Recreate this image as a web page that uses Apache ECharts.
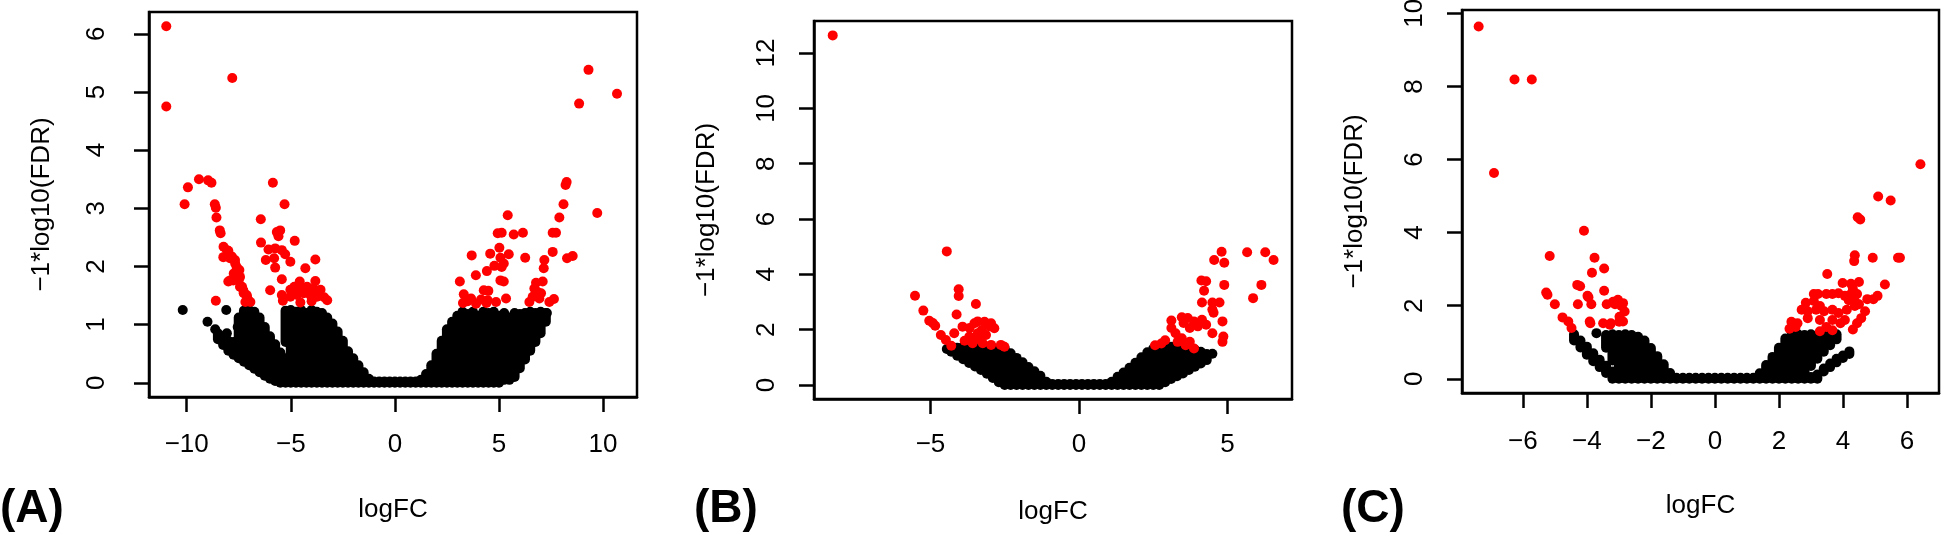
<!DOCTYPE html>
<html><head><meta charset="utf-8">
<script src="https://cdn.jsdelivr.net/npm/echarts@6/dist/echarts.min.js"></script>
<style>html,body{margin:0;padding:0;background:#fff}#c{width:1943px;height:536px}</style>
</head><body><div id="c"></div>
<script>
// ---------- Panel A ----------
const ticksAx = [-10, -5, 0, 5, 10];
const ticksAy = [0, 1, 2, 3, 4, 5, 6];
const redA = [
[-10.98,6.13],[-10.98,4.75],[-7.81,5.24],
[-9.41,3.5],[-8.97,3.48],[-8.81,3.44],[-9.94,3.36],[-10.1,3.07],[-8.65,3.07],[-8.6,3.01],[-8.57,2.84],[-8.41,2.62],[-8.37,2.57],
[-8.23,2.34],[-8.07,2.28],[-8.0,2.27],[-8.24,2.16],[-7.92,2.14],[-7.83,2.17],[-7.68,2.11],[-7.67,2.05],[-7.6,1.99],[-7.47,1.94],
[-7.74,1.88],[-7.44,1.82],[-8.0,1.74],[-7.76,1.76],[-7.91,1.76],[-7.5,1.76],[-7.44,1.65],[-7.34,1.65],[-7.28,1.59],[-7.26,1.54],
[-7.12,1.51],[-7.1,1.48],[-7.04,1.42],[-7.18,1.39],[-6.94,1.39],[-8.6,1.41],
[-5.86,3.44],[-5.3,3.07],[-6.44,2.81],[-6.43,2.41],[-5.67,2.59],[-5.59,2.52],[-5.51,2.62],[-4.81,2.44],[-6.07,2.29],[-5.75,2.31],
[-6.2,2.11],[-5.8,2.14],[-5.43,2.28],[-5.27,2.21],[-5.75,1.98],[-5.02,2.08],[-3.82,2.12],[-4.3,1.97],[-5.43,1.78],[-4.57,1.74],
[-4.83,1.65],[-3.82,1.75],[-5.99,1.59],[-5.02,1.6],[-4.54,1.64],[-4.22,1.65],[-3.9,1.62],[-3.57,1.6],[-5.43,1.51],[-5.02,1.48],
[-4.7,1.51],[-4.38,1.54],[-4.06,1.51],[-3.74,1.48],[-3.25,1.42],[-5.38,1.41],[-4.54,1.38],[-4.0,1.4],[-3.4,1.47],
[9.3,5.38],[8.85,4.8],[10.67,4.97],[9.72,2.92],
[8.25,3.45],[8.2,3.4],[8.1,3.07],[7.9,2.84],[7.58,2.58],[7.74,2.58],[7.58,2.25],[8.27,2.14],[8.54,2.18],[7.18,2.11],[7.15,1.97],
[6.78,1.72],[7.1,1.74],[6.7,1.62],[6.86,1.56],[7.02,1.54],[6.62,1.48],[6.94,1.45],[6.46,1.39],[7.64,1.44],[7.42,1.39],
[5.42,2.88],[4.94,2.57],[5.13,2.58],[5.71,2.55],[6.15,2.58],[5.02,2.32],[4.58,2.22],[5.47,2.21],[3.69,2.19],[6.26,2.15],[5.07,2.15],
[5.23,2.05],[5.13,1.99],[4.78,2.01],[4.42,1.92],[3.89,1.85],[3.12,1.74],[5.23,1.74],[4.49,1.58],[3.31,1.52],[3.66,1.45],[4.14,1.43],
[4.46,1.42],[4.86,1.39],[5.34,1.45],[3.27,1.37],[4.4,1.37],[3.5,1.4],[3.9,1.36],[4.27,1.59],[5.07,1.76]
];
const blackA = [[-10.19,1.25],[-8.10,1.25],[-9.0,1.05],[-8.63,0.92],[-7.55,0.96],[-8.39,0.79],[-8.07,0.85],[6.36,0.62],[7.3,1.2]];
// dense non-significant genes: [logFC, lowest, highest] per column
const massA = [
[-8.5,0.75,0.85],[-8.25,0.65,0.8],[-8.0,0.55,0.72],[-7.75,0.48,0.7],[-7.5,0.42,1.12],[-7.25,0.36,1.24],[-7.0,0.3,1.25],
[-6.75,0.24,1.22],[-6.5,0.18,1.12],[-6.25,0.12,0.96],[-6.0,0.07,0.8],[-5.75,0.03,0.66],[-5.5,0,0.52],[-5.25,0,0.42],[-5.25,0.7,1.24],
[-5.0,0,1.25],[-4.75,0,1.22],[-4.5,0,1.25],[-4.25,0,1.2],[-4.0,0,1.25],[-3.75,0,1.22],[-3.5,0,1.2],[-3.25,0,1.12],[-3.0,0,1.02],
[-2.75,0,0.88],[-2.5,0,0.72],[-2.25,0,0.54],[-2.0,0,0.42],[-1.75,0,0.3],[-1.5,0,0.18],[-1.25,0,0.07],
[-1.0,0,0.02],[-0.75,0,0.02],[-0.5,0,0.02],[-0.25,0,0.02],[0,0,0.02],[0.25,0,0.02],[0.5,0,0.02],[0.75,0,0.02],[1.0,0,0.02],
[1.25,0,0.05],[1.5,0,0.15],[1.75,0,0.3],[2.0,0,0.5],[2.25,0,0.72],[2.5,0,0.92],[2.75,0,1.05],[3.0,0,1.15],[3.25,0,1.22],
[3.5,0,1.18],[3.75,0,1.22],[4.0,0,1.15],[4.25,0,1.22],[4.5,0,1.2],[4.75,0,1.22],[5.0,0,1.15],[5.25,0.05,1.2],[5.5,0.05,1.12],
[5.75,0.1,1.2],[6.0,0.25,1.18],[6.25,0.4,1.2],[6.5,0.55,1.22],[6.75,0.7,1.2],[7.0,0.85,1.22],[7.25,1.05,1.2]
];

// ---------- Panel B ----------
const ticksBx = [-5, 0, 5];
const ticksBy = [0, 2, 4, 6, 8, 10, 12];
const redB = [
[-8.29,12.64],[-4.45,4.83],[-5.52,3.23],[-4.05,3.46],[-4.05,3.22],[-3.47,2.93],[-5.24,2.69],[-4.12,2.55],[-5.04,2.32],[-4.92,2.24],
[-4.84,2.14],[-4.65,1.81],[-4.48,1.63],[-4.3,1.42],[-4.2,1.87],[-3.92,2.11],[-3.52,2.23],[-3.18,2.29],[-2.96,2.23],[-2.85,2.05],
[-3.27,1.99],[-3.69,1.75],[-3.41,1.87],[-3.13,1.81],[-3.58,1.51],[-3.24,1.51],[-2.96,1.45],[-2.63,1.45],[-2.51,1.38],[-3.68,2.06],
[-3.41,2.3],[-3.0,2.12],[-3.4,1.69],[-3.85,1.6],
[5.66,4.8],[6.27,4.8],[6.55,4.52],[6.14,3.62],[5.86,3.14],[4.8,4.82],[4.55,4.52],[4.89,4.42],[4.12,3.78],[4.28,3.75],[4.21,3.41],
[4.89,3.62],[4.14,2.98],[4.49,2.98],[4.73,2.98],[4.49,2.73],[4.53,2.61],[4.83,2.3],[4.49,1.87],[4.86,1.75],[4.83,1.56],[3.11,2.33],
[3.46,2.45],[3.66,2.42],[3.52,2.24],[3.87,2.3],[4.14,2.36],[3.73,2.06],[4.0,2.12],[3.11,2.06],[3.25,1.87],[3.46,1.69],[3.59,1.44],
[2.9,1.62],[3.32,1.56],[3.73,1.56],[3.87,1.32],[2.56,1.44],[2.77,1.5],[4.28,2.18]
];
const blackB = [[4.49,1.13],[-4.45,1.3]];
const massB = [
[-4.3,1.2,1.3],[-4.1,1.06,1.35],[-3.9,0.93,1.38],[-3.7,0.8,1.38],[-3.5,0.67,1.35],[-3.3,0.54,1.36],[-3.1,0.41,1.3],[-2.9,0.25,1.35],
[-2.7,0.1,1.3],[-2.5,0,1.32],[-2.3,0,1.15],[-2.1,0,0.98],[-1.9,0,0.82],[-1.7,0,0.65],[-1.5,0,0.5],[-1.3,0,0.33],[-1.1,0,0.12],
[-0.9,0,0.04],[-0.7,0,0.04],[-0.5,0,0.04],[-0.3,0,0.04],[-0.1,0,0.04],[0.1,0,0.04],[0.3,0,0.04],[0.5,0,0.04],[0.7,0,0.04],[0.9,0,0.04],
[1.1,0,0.12],[1.3,0,0.3],[1.5,0,0.45],[1.7,0,0.62],[1.9,0,0.8],[2.1,0,1.0],[2.3,0,1.18],[2.5,0,1.32],[2.7,0,1.38],[2.9,0.1,1.38],
[3.1,0.22,1.38],[3.3,0.32,1.38],[3.5,0.42,1.35],[3.7,0.54,1.32],[3.9,0.66,1.28],[4.1,0.78,1.2],[4.3,0.9,1.12]
];

// ---------- Panel C ----------
const ticksCx = [-6, -4, -2, 0, 2, 4, 6];
const ticksCy = [0, 2, 4, 6, 8, 10];
const redC = [
[-7.38,9.64],[-6.9,5.63],[-6.26,8.19],[-5.72,8.19],
[-5.16,3.36],[-5.27,2.36],[-5.23,2.3],[-5.0,2.04],[-4.76,1.68],[-4.58,1.57],[-4.48,1.39],
[-4.09,4.05],[-4.3,2.57],[-4.21,2.53],[-3.76,3.31],[-3.46,3.02],[-3.84,2.9],[-3.98,2.27],[-3.95,2.23],[-4.28,2.04],[-3.86,2.04],
[-3.46,2.41],[-3.38,2.04],[-3.18,2.11],[-3.03,2.16],[-2.87,2.07],[-2.82,1.84],[-2.98,1.7],[-2.87,1.57],[-3.91,1.57],[-3.89,1.52],
[-3.49,1.52],[-3.28,1.48],[-3.25,1.52],[-2.99,1.56],[-3.12,2.04],[-2.92,1.99],
[6.42,5.87],[5.1,4.99],[5.49,4.88],[4.46,4.42],[4.54,4.36],[4.37,3.38],[4.35,3.22],[4.93,3.31],[5.72,3.31],[5.78,3.31],[3.51,2.87],
[3.99,2.62],[4.25,2.6],[4.5,2.65],[4.31,2.46],[5.31,2.58],[5.08,2.27],[4.95,2.18],[4.76,2.18],[3.09,2.32],[3.22,2.32],[3.48,2.32],
[3.67,2.32],[3.86,2.34],[4.06,2.27],[4.25,2.32],[4.44,2.32],[2.84,2.08],[3.09,2.13],[3.28,1.99],[4.18,2.15],[4.37,2.13],[4.5,2.04],
[2.71,1.89],[2.9,1.85],[3.16,1.89],[3.41,1.85],[3.67,1.89],[3.86,1.8],[4.12,1.89],[4.37,1.99],[4.69,1.85],[4.57,1.66],[4.44,1.52],
[4.31,1.35],[2.39,1.56],[2.58,1.52],[2.9,1.66],[3.28,1.61],[3.67,1.61],[3.92,1.52],[4.06,1.61],[2.33,1.37],[2.52,1.42],[3.48,1.42],
[3.67,1.33],[3.28,1.3]
];
const blackC = [[-3.70,1.25]];
const massC = [
[-4.4,1.05,1.22],[-4.2,0.86,1.05],[-4.0,0.66,0.88],[-3.8,0.48,0.7],[-3.6,0.32,0.52],[-3.4,0.16,0.36],[-3.4,0.85,1.2],
[-3.2,0,0.2],[-3.2,0.5,1.22],[-3.0,0,1.2],[-2.8,0,1.22],[-2.6,0,1.2],[-2.4,0,1.15],[-2.2,0,1.05],[-2.0,0,0.84],[-1.8,0,0.62],
[-1.6,0,0.4],[-1.4,0,0.16],[-1.2,0,0.03],[-1.0,0,0.03],[-0.8,0,0.03],[-0.6,0,0.03],[-0.4,0,0.03],[-0.2,0,0.03],[0,0,0.03],
[0.2,0,0.03],[0.4,0,0.03],[0.6,0,0.03],[0.8,0,0.03],[1.0,0,0.03],[1.2,0,0.03],[1.4,0,0.15],[1.6,0,0.38],[1.8,0,0.6],[2.0,0,0.85],
[2.2,0,1.1],[2.4,0,1.2],[2.6,0,1.22],[2.8,0,1.2],[3.0,0,0.05],[3.0,0.35,1.22],[3.2,0,0.12],[3.2,0.55,1.2],[3.4,0.2,0.28],
[3.4,0.74,1.22],[3.6,0.32,0.42],[3.6,0.92,1.2],[3.8,0.45,0.55],[3.8,1.08,1.22],[4.0,0.57,0.64],[4.2,0.68,0.75]
];

const panelLetters = ['(A)', '(B)', '(C)'];
const xTitle = 'logFC';
const yTitle = '\u22121*log10(FDR)';

// ---------- build ----------
const FONT = '"Liberation Sans", Arial, sans-serif';
const fmt = v => String(v).replace('-', '\u2212');
const panels = [
  {grid:{left:149, top:12, width:488, height:385}, x:[-11.81, 11.63], y:[-0.245, 6.375], tx:ticksAx, ty:ticksAy, red:redA, black:blackA, mass:massA, ylm:39, xlm:35},
  {grid:{left:814, top:21, width:478, height:378}, x:[-8.92, 7.17], y:[-0.506, 13.16], tx:ticksBx, ty:ticksBy, red:redB, black:blackB, mass:massB, ylm:34, xlm:33},
  {grid:{left:1462, top:10, width:477, height:383}, x:[-7.9, 7.0], y:[-0.388, 10.09], tx:ticksCx, ty:ticksCy, red:redC, black:blackC, mass:massC, ylm:34, xlm:36}
];
const lineStyle = {color:'#000', width:2.5};
const option = {
  animation:false,
  backgroundColor:'#fff',
  grid: panels.map(p => Object.assign({show:true, borderColor:'#000', borderWidth:2.5, backgroundColor:'transparent', containLabel:false, outerBoundsMode:'none'}, p.grid)),
  xAxis: panels.map((p,i) => ({
    type:'value', gridIndex:i, min:p.x[0], max:p.x[1],
    name:xTitle, nameLocation:'middle', nameGap:100,
    nameTextStyle:{fontFamily:FONT, fontSize:26, color:'#000'},
    axisLine:{show:true, onZero:false, lineStyle},
    axisTick:{show:true, inside:false, length:15, customValues:p.tx, lineStyle},
    axisLabel:{show:true, customValues:p.tx, margin:p.xlm, fontFamily:FONT, fontSize:26, color:'#000', formatter:fmt},
    splitLine:{show:false}
  })),
  yAxis: panels.map((p,i) => ({
    type:'value', gridIndex:i, min:p.y[0], max:p.y[1],
    name:yTitle, nameLocation:'middle', nameGap:94, nameRotate:90,
    nameTextStyle:{fontFamily:FONT, fontSize:26, color:'#000'},
    axisLine:{show:true, onZero:false, lineStyle},
    axisTick:{show:true, inside:false, length:15, customValues:p.ty, lineStyle},
    axisLabel:{show:true, customValues:p.ty, rotate:90, margin:p.ylm, fontFamily:FONT, fontSize:26, color:'#000', formatter:fmt},
    splitLine:{show:false}
  })),
  series: [].concat(...panels.map((p,i) => [
    {type:'custom', xAxisIndex:i, yAxisIndex:i, data:p.mass, clip:true, silent:true, z:1,
     encode:{x:0, y:[1,2]},
     renderItem:(params, api) => {
       const a = api.coord([api.value(0), api.value(1)]);
       const b = api.coord([api.value(0), api.value(2)]);
       return {type:'line', shape:{x1:a[0], y1:a[1], x2:b[0], y2:b[1] - 0.01},
               style:{stroke:'#000', lineWidth:10, lineCap:'round', fill:null, opacity:1}};
     }},
    {type:'scatter', xAxisIndex:i, yAxisIndex:i, data:p.black, symbol:'circle', symbolSize:10,
     itemStyle:{color:'#000', opacity:1}, emphasis:{disabled:true}, silent:true, z:2},
    {type:'scatter', xAxisIndex:i, yAxisIndex:i, data:p.red, symbol:'circle', symbolSize:10,
     itemStyle:{color:'#ff0000', opacity:1}, emphasis:{disabled:true}, silent:true, z:3}
  ])),
  graphic: [
    {type:'text', left:0, top:486, style:{text:panelLetters[0], font:'bold 46px "Liberation Sans", Arial, sans-serif', fill:'#000'}},
    {type:'text', left:694, top:486, style:{text:panelLetters[1], font:'bold 46px "Liberation Sans", Arial, sans-serif', fill:'#000'}},
    {type:'text', left:1341, top:486, style:{text:panelLetters[2], font:'bold 46px "Liberation Sans", Arial, sans-serif', fill:'#000'}}
  ]
};
const chart = echarts.init(document.getElementById('c'), null, {renderer:'canvas'});
chart.setOption(option);
</script>
</body></html>
